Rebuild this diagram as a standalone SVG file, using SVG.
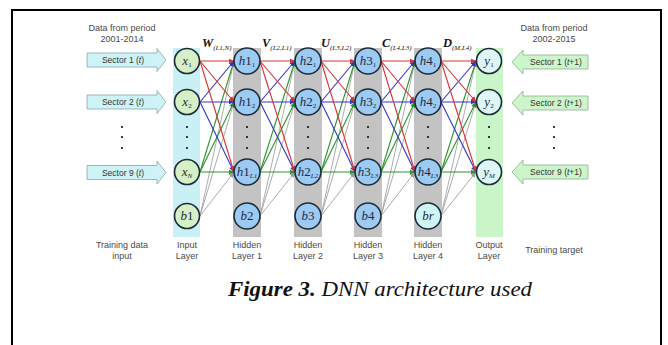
<svg xmlns="http://www.w3.org/2000/svg" width="668" height="345" viewBox="0 0 668 345">
  <defs>
    <marker id="ahR" markerWidth="6" markerHeight="6" refX="5.5" refY="3" orient="auto" markerUnits="userSpaceOnUse"><path d="M0,0.5 L6,3 L0,5.5 z" fill="#d83232"/></marker>
    <marker id="ahB" markerWidth="6" markerHeight="6" refX="5.5" refY="3" orient="auto" markerUnits="userSpaceOnUse"><path d="M0,0.5 L6,3 L0,5.5 z" fill="#3434c8"/></marker>
    <marker id="ahG" markerWidth="6" markerHeight="6" refX="5.5" refY="3" orient="auto" markerUnits="userSpaceOnUse"><path d="M0,0.5 L6,3 L0,5.5 z" fill="#2c942c"/></marker>
    <marker id="ahK" markerWidth="6" markerHeight="6" refX="5.5" refY="3" orient="auto" markerUnits="userSpaceOnUse"><path d="M0,0.5 L6,3 L0,5.5 z" fill="#9a9a9a"/></marker>
    <style>
      .lbl{font-family:"Liberation Sans",Arial,sans-serif;font-size:9px;fill:#4a4a4a;text-anchor:middle}
      .sec{font-family:"Liberation Sans",Arial,sans-serif;font-size:8.5px;fill:#333;text-anchor:middle}
      .it{font-style:italic}
      .nd{font-family:"Liberation Serif","Times New Roman",serif;font-style:italic;font-size:13px;fill:#1c2c44;text-anchor:middle}
      .up{font-style:normal}
      .sub{font-size:7px}
      .wt{font-family:"Liberation Serif","Times New Roman",serif;font-weight:bold;font-style:italic;font-size:12.5px;fill:#151515}
      .wsub{font-weight:normal;font-size:7px}
      .inp{fill:#d5efc6;stroke:#1e2c3a;stroke-width:1.6}
      .hid{fill:#9ccaf3;stroke:#1e2c3a;stroke-width:1.6}
      .hbr{fill:#cff4f4;stroke:#1e2c3a;stroke-width:1.6}
      .out{fill:#def6f5;stroke:#1e2c3a;stroke-width:1.6}
      .arL{fill:#cdf3f6;stroke:#8aa6b0;stroke-width:0.8}
      .arR{fill:#cdf5cb;stroke:#8fae8c;stroke-width:0.8}
      .dot{fill:#111}
      .r{stroke:#d83232;stroke-width:1.1;marker-end:url(#ahR)}
      .b{stroke:#3434c8;stroke-width:1.1;marker-end:url(#ahB)}
      .g{stroke:#2c942c;stroke-width:1.1;marker-end:url(#ahG)}
      .k{stroke:#a2a2a2;stroke-width:0.9;marker-end:url(#ahK)}
      .cap{font-family:"Liberation Serif","Times New Roman",serif;font-style:italic;font-size:20px;fill:#111}
    </style>
  </defs>

  <rect width="668" height="345" fill="#fff"/>
  <!-- frame around the figure -->
  <rect x="12" y="10" width="649" height="345" fill="none" stroke="#000" stroke-width="2"/>

  <!-- layer columns -->
  <g id="columns">
    <rect x="173" y="48" width="27" height="189" fill="#c9f1f5"/>
    <rect x="233" y="48" width="28" height="189" fill="#c3c3c3"/>
    <rect x="294" y="48" width="28" height="189" fill="#c3c3c3"/>
    <rect x="354" y="48" width="28" height="189" fill="#c3c3c3"/>
    <rect x="414" y="48" width="28" height="189" fill="#c3c3c3"/>
    <rect x="476" y="48" width="27" height="189" fill="#c9f5c8"/>
  </g>

  <!-- weight connections between layers -->
  <g id="connectors" fill="none">
    <!-- gap 1: input -> hidden 1 -->
    <line class="k" x1="200" y1="216" x2="234" y2="61"/><line class="k" x1="200" y1="216" x2="234" y2="102"/><line class="k" x1="200" y1="216" x2="234" y2="172"/>
    <line class="g" x1="200" y1="172" x2="234" y2="61"/><line class="g" x1="200" y1="172" x2="234" y2="102"/><line class="g" x1="200" y1="172" x2="234" y2="172"/>
    <line class="b" x1="200" y1="102" x2="234" y2="61"/><line class="b" x1="200" y1="102" x2="234" y2="102"/><line class="b" x1="200" y1="102" x2="234" y2="172"/>
    <line class="r" x1="200" y1="61" x2="234" y2="61"/><line class="r" x1="200" y1="61" x2="234" y2="102"/><line class="r" x1="200" y1="61" x2="234" y2="172"/>
    <!-- gap 2: hidden 1 -> hidden 2 -->
    <line class="k" x1="260" y1="216" x2="295" y2="61"/><line class="k" x1="260" y1="216" x2="295" y2="102"/><line class="k" x1="260" y1="216" x2="295" y2="172"/>
    <line class="g" x1="260" y1="172" x2="295" y2="61"/><line class="g" x1="260" y1="172" x2="295" y2="102"/><line class="g" x1="260" y1="172" x2="295" y2="172"/>
    <line class="b" x1="260" y1="102" x2="295" y2="61"/><line class="b" x1="260" y1="102" x2="295" y2="102"/><line class="b" x1="260" y1="102" x2="295" y2="172"/>
    <line class="r" x1="260" y1="61" x2="295" y2="61"/><line class="r" x1="260" y1="61" x2="295" y2="102"/><line class="r" x1="260" y1="61" x2="295" y2="172"/>
    <!-- gap 3: hidden 2 -> hidden 3 -->
    <line class="k" x1="321" y1="216" x2="355" y2="61"/><line class="k" x1="321" y1="216" x2="355" y2="102"/><line class="k" x1="321" y1="216" x2="355" y2="172"/>
    <line class="g" x1="321" y1="172" x2="355" y2="61"/><line class="g" x1="321" y1="172" x2="355" y2="102"/><line class="g" x1="321" y1="172" x2="355" y2="172"/>
    <line class="b" x1="321" y1="102" x2="355" y2="61"/><line class="b" x1="321" y1="102" x2="355" y2="102"/><line class="b" x1="321" y1="102" x2="355" y2="172"/>
    <line class="r" x1="321" y1="61" x2="355" y2="61"/><line class="r" x1="321" y1="61" x2="355" y2="102"/><line class="r" x1="321" y1="61" x2="355" y2="172"/>
    <!-- gap 4: hidden 3 -> hidden 4 -->
    <line class="k" x1="381" y1="216" x2="415" y2="61"/><line class="k" x1="381" y1="216" x2="415" y2="102"/><line class="k" x1="381" y1="216" x2="415" y2="172"/>
    <line class="g" x1="381" y1="172" x2="415" y2="61"/><line class="g" x1="381" y1="172" x2="415" y2="102"/><line class="g" x1="381" y1="172" x2="415" y2="172"/>
    <line class="b" x1="381" y1="102" x2="415" y2="61"/><line class="b" x1="381" y1="102" x2="415" y2="102"/><line class="b" x1="381" y1="102" x2="415" y2="172"/>
    <line class="r" x1="381" y1="61" x2="415" y2="61"/><line class="r" x1="381" y1="61" x2="415" y2="102"/><line class="r" x1="381" y1="61" x2="415" y2="172"/>
    <!-- gap 5: hidden 4 -> output -->
    <line class="k" x1="441" y1="216" x2="476" y2="61"/><line class="k" x1="441" y1="216" x2="476" y2="102"/><line class="k" x1="441" y1="216" x2="476" y2="172"/>
    <line class="g" x1="441" y1="172" x2="476" y2="61"/><line class="g" x1="441" y1="172" x2="476" y2="102"/><line class="g" x1="441" y1="172" x2="476" y2="172"/>
    <line class="b" x1="441" y1="102" x2="476" y2="61"/><line class="b" x1="441" y1="102" x2="476" y2="102"/><line class="b" x1="441" y1="102" x2="476" y2="172"/>
    <line class="r" x1="441" y1="61" x2="476" y2="61"/><line class="r" x1="441" y1="61" x2="476" y2="102"/><line class="r" x1="441" y1="61" x2="476" y2="172"/>
  </g>

  <!-- weight matrix labels -->
  <g id="weights">
    <text class="wt" x="202" y="47">W<tspan class="wsub" dy="2.5">(L1,N)</tspan></text>
    <text class="wt" x="262" y="47">V<tspan class="wsub" dy="2.5">(L2,L1)</tspan></text>
    <text class="wt" x="321" y="47">U<tspan class="wsub" dy="2.5">(L3,L2)</tspan></text>
    <text class="wt" x="382" y="47">C<tspan class="wsub" dy="2.5">(L4,L3)</tspan></text>
    <text class="wt" x="443" y="47">D<tspan class="wsub" dy="2.5">(M,L4)</tspan></text>
  </g>

  <!-- input layer -->
  <g id="x1"><circle class="inp" cx="187" cy="61" r="12.5"/><text class="nd" x="187" y="65">x<tspan class="sub up" dy="2">1</tspan></text></g>
  <g id="x2"><circle class="inp" cx="187" cy="102" r="12.5"/><text class="nd" x="187" y="106">x<tspan class="sub up" dy="2">2</tspan></text></g>
  <g id="xN"><circle class="inp" cx="187" cy="172" r="12.5"/><text class="nd" x="187" y="176">x<tspan class="sub" dy="2">N</tspan></text></g>
  <g id="b1"><circle class="inp" cx="187" cy="216" r="12.5"/><text class="nd" x="187" y="220">b<tspan class="up">1</tspan></text></g>

  <!-- hidden layer 1 -->
  <g id="h1_1"><circle class="hid" cx="247" cy="61" r="13"/><text class="nd" x="247" y="65">h<tspan class="up">1</tspan><tspan class="sub up" dy="2">1</tspan></text></g>
  <g id="h1_2"><circle class="hid" cx="247" cy="102" r="13"/><text class="nd" x="247" y="106">h<tspan class="up">1</tspan><tspan class="sub up" dy="2">2</tspan></text></g>
  <g id="h1_L1"><circle class="hid" cx="247" cy="172" r="13"/><text class="nd" x="247" y="176">h<tspan class="up">1</tspan><tspan class="sub" dy="2">L1</tspan></text></g>
  <g id="b2"><circle class="hid" cx="247" cy="216" r="13"/><text class="nd" x="247" y="220">b<tspan class="up">2</tspan></text></g>

  <!-- hidden layer 2 -->
  <g id="h2_1"><circle class="hid" cx="308" cy="61" r="13"/><text class="nd" x="308" y="65">h<tspan class="up">2</tspan><tspan class="sub up" dy="2">1</tspan></text></g>
  <g id="h2_2"><circle class="hid" cx="308" cy="102" r="13"/><text class="nd" x="308" y="106">h<tspan class="up">2</tspan><tspan class="sub up" dy="2">2</tspan></text></g>
  <g id="h2_L2"><circle class="hid" cx="308" cy="172" r="13"/><text class="nd" x="308" y="176">h<tspan class="up">2</tspan><tspan class="sub" dy="2">L2</tspan></text></g>
  <g id="b3"><circle class="hid" cx="308" cy="216" r="13"/><text class="nd" x="308" y="220">b<tspan class="up">3</tspan></text></g>

  <!-- hidden layer 3 -->
  <g id="h3_1"><circle class="hid" cx="368" cy="61" r="13"/><text class="nd" x="368" y="65">h<tspan class="up">3</tspan><tspan class="sub up" dy="2">1</tspan></text></g>
  <g id="h3_2"><circle class="hid" cx="368" cy="102" r="13"/><text class="nd" x="368" y="106">h<tspan class="up">3</tspan><tspan class="sub up" dy="2">2</tspan></text></g>
  <g id="h3_L3"><circle class="hid" cx="368" cy="172" r="13"/><text class="nd" x="368" y="176">h<tspan class="up">3</tspan><tspan class="sub" dy="2">L3</tspan></text></g>
  <g id="b4"><circle class="hid" cx="368" cy="216" r="13"/><text class="nd" x="368" y="220">b<tspan class="up">4</tspan></text></g>

  <!-- hidden layer 4 -->
  <g id="h4_1"><circle class="hid" cx="428" cy="61" r="13"/><text class="nd" x="428" y="65">h<tspan class="up">4</tspan><tspan class="sub up" dy="2">1</tspan></text></g>
  <g id="h4_2"><circle class="hid" cx="428" cy="102" r="13"/><text class="nd" x="428" y="106">h<tspan class="up">4</tspan><tspan class="sub up" dy="2">2</tspan></text></g>
  <g id="h4_L3"><circle class="hid" cx="428" cy="172" r="13"/><text class="nd" x="428" y="176">h<tspan class="up">4</tspan><tspan class="sub" dy="2">L3</tspan></text></g>
  <g id="br"><circle class="hbr" cx="428" cy="216" r="13"/><text class="nd" x="428" y="220">br</text></g>

  <!-- output layer -->
  <g id="y1"><circle class="out" cx="489" cy="61" r="12.5"/><text class="nd" x="489" y="65">y<tspan class="sub up" dy="2">1</tspan></text></g>
  <g id="y2"><circle class="out" cx="489" cy="102" r="12.5"/><text class="nd" x="489" y="106">y<tspan class="sub up" dy="2">2</tspan></text></g>
  <g id="yM"><circle class="out" cx="489" cy="172" r="12.5"/><text class="nd" x="489" y="176">y<tspan class="sub" dy="2">M</tspan></text></g>

  <!-- vertical ellipses -->
  <g id="ellipses">
    <circle class="dot" cx="122" cy="127" r="1.1"/><circle class="dot" cx="122" cy="137" r="1.1"/><circle class="dot" cx="122" cy="148" r="1.1"/>
    <circle class="dot" cx="187" cy="127" r="1.1"/><circle class="dot" cx="187" cy="137" r="1.1"/><circle class="dot" cx="187" cy="148" r="1.1"/>
    <circle class="dot" cx="247" cy="127" r="1.1"/><circle class="dot" cx="247" cy="137" r="1.1"/><circle class="dot" cx="247" cy="148" r="1.1"/>
    <circle class="dot" cx="308" cy="127" r="1.1"/><circle class="dot" cx="308" cy="137" r="1.1"/><circle class="dot" cx="308" cy="148" r="1.1"/>
    <circle class="dot" cx="368" cy="127" r="1.1"/><circle class="dot" cx="368" cy="137" r="1.1"/><circle class="dot" cx="368" cy="148" r="1.1"/>
    <circle class="dot" cx="428" cy="127" r="1.1"/><circle class="dot" cx="428" cy="137" r="1.1"/><circle class="dot" cx="428" cy="148" r="1.1"/>
    <circle class="dot" cx="489" cy="127" r="1.1"/><circle class="dot" cx="489" cy="137" r="1.1"/><circle class="dot" cx="489" cy="148" r="1.1"/>
    <circle class="dot" cx="554" cy="127" r="1.1"/><circle class="dot" cx="554" cy="137" r="1.1"/><circle class="dot" cx="554" cy="148" r="1.1"/>
  </g>

  <!-- training data inputs -->
  <text class="lbl" x="122" y="31">Data from period</text>
  <text class="lbl" x="122" y="42">2001-2014</text>
  <g id="in1"><path class="arL" d="M87,53 H157 V48.5 L166,60 L157,71.5 V67 H87 Z"/><text class="sec" x="123" y="63">Sector 1 (<tspan class="it">t</tspan>)</text></g>
  <g id="in2"><path class="arL" d="M87,95 H157 V90.5 L166,102 L157,113.5 V109 H87 Z"/><text class="sec" x="123" y="105">Sector 2 (<tspan class="it">t</tspan>)</text></g>
  <g id="in9"><path class="arL" d="M87,165.5 H157 V161 L166,172.5 L157,184 V179.5 H87 Z"/><text class="sec" x="123" y="175.5">Sector 9 (<tspan class="it">t</tspan>)</text></g>

  <!-- training targets -->
  <text class="lbl" x="554" y="31">Data from period</text>
  <text class="lbl" x="554" y="42">2002-2015</text>
  <g id="out1"><path class="arR" d="M588,55 H523 V50 L512,62 L523,74 V69 H588 Z"/><text class="sec" x="556" y="65">Sector 1 (<tspan class="it">t</tspan>+1)</text></g>
  <g id="out2"><path class="arR" d="M588,96 H523 V91 L512,103 L523,115 V110 H588 Z"/><text class="sec" x="556" y="106">Sector 2 (<tspan class="it">t</tspan>+1)</text></g>
  <g id="out9"><path class="arR" d="M588,165 H523 V160 L512,172 L523,184 V179 H588 Z"/><text class="sec" x="556" y="175">Sector 9 (<tspan class="it">t</tspan>+1)</text></g>

  <!-- bottom labels -->
  <g id="labels">
    <text class="lbl" x="122" y="248">Training data</text><text class="lbl" x="122" y="259">input</text>
    <text class="lbl" x="187" y="248">Input</text><text class="lbl" x="187" y="259">Layer</text>
    <text class="lbl" x="247" y="248">Hidden</text><text class="lbl" x="247" y="259">Layer 1</text>
    <text class="lbl" x="308" y="248">Hidden</text><text class="lbl" x="308" y="259">Layer 2</text>
    <text class="lbl" x="368" y="248">Hidden</text><text class="lbl" x="368" y="259">Layer 3</text>
    <text class="lbl" x="428" y="248">Hidden</text><text class="lbl" x="428" y="259">Layer 4</text>
    <text class="lbl" x="489" y="248">Output</text><text class="lbl" x="489" y="259">Layer</text>
    <text class="lbl" x="554" y="253">Training target</text>
  </g>

  <!-- caption -->
  <text class="cap" x="228" y="296" textLength="304" lengthAdjust="spacingAndGlyphs"><tspan font-weight="bold">Figure 3.</tspan> DNN architecture used</text>
</svg>
